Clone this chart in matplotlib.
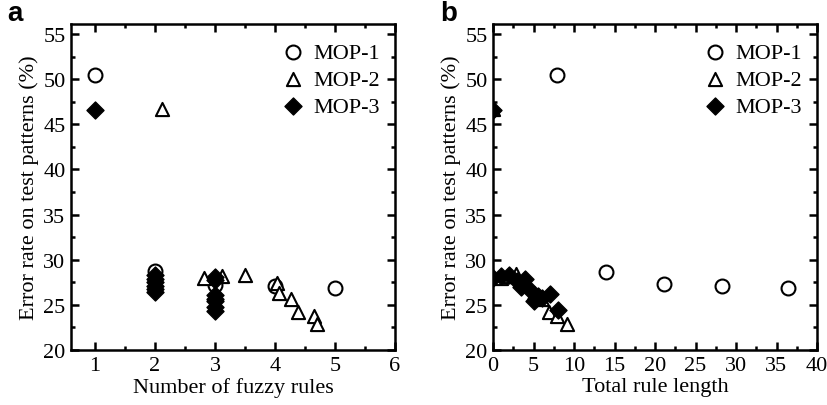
import matplotlib
matplotlib.use("Agg")
import matplotlib.pyplot as plt
from matplotlib.ticker import MultipleLocator

plt.rcParams['font.family'] = ['Liberation Serif', 'DejaVu Serif']

# panel a: number of fuzzy rules
a_mop1_x = [1, 2, 3, 4, 5]
a_mop1_y = [50.5, 28.7, 27.2, 27.1, 26.9]
a_mop2_x = [2.12, 2.81, 3.12, 3.5, 4.03, 4.07, 4.26, 4.38, 4.65, 4.7]
a_mop2_y = [46.7, 28.0, 28.2, 28.3, 27.4, 26.3, 25.6, 24.2, 23.8, 22.9]
a_mop3_x = [1, 2, 2, 2, 2, 2, 2, 3, 3, 3, 3, 3, 3, 3]
a_mop3_y = [46.6, 28.3, 27.9, 27.5, 27.1, 26.8, 26.4, 28.1, 27.7, 26.1, 25.7, 25.4, 24.8, 24.3]

# panel b: total rule length
b_mop1_x = [7.9, 14, 21.1, 28.3, 36.4]
b_mop1_y = [50.5, 28.6, 27.3, 27.1, 26.9]
b_mop2_x = [0, 1, 2, 2.8, 4, 5, 6, 6.9, 7.96, 9.08]
b_mop2_y = [46.7, 28.0, 28.2, 28.4, 27.3, 26.3, 25.6, 24.2, 23.8, 22.9]
b_mop3_x = [0, 0, 1, 2, 3, 3.5, 4, 4.5, 5, 5.5, 6, 7, 8]
b_mop3_y = [46.6, 28.0, 28.2, 28.3, 27.6, 27.0, 27.9, 26.7, 25.4, 26.0, 25.8, 26.2, 24.4]

fig = plt.figure(figsize=(8.28, 4.06), dpi=100)
ax_a = fig.add_axes([71/828, 55/406, 324/828, 326/406])
ax_b = fig.add_axes([493/828, 55/406, 324/828, 326/406])


def draw(ax, x1, y1, x2, y2, x3, y3):
    ax.scatter(x1, y1, marker='o', s=100, facecolors='white', edgecolors='black',
               linewidths=1.5, label='MOP-1', zorder=3)
    ax.scatter(x2, y2, marker='^', s=90, facecolors='white', edgecolors='black',
               linewidths=1.5, label='MOP-2', zorder=4)
    ax.scatter(x3, y3, marker='D', s=75, facecolors='black', edgecolors='black',
               linewidths=1.0, label='MOP-3', zorder=5)
    ax.set_ylim(20, 56.1)
    ax.yaxis.set_major_locator(MultipleLocator(5))
    ax.yaxis.set_minor_locator(MultipleLocator(2.5))
    ax.set_ylabel('Error rate on test patterns (%)', fontsize=16, labelpad=3)
    for sp in ax.spines.values():
        sp.set_linewidth(1.8)
    ax.tick_params(which='both', direction='in', top=True, right=True,
                   labelsize=16, width=1.8)
    ax.tick_params(which='major', length=6, pad=4)
    ax.tick_params(which='minor', length=3)
    ax.legend(loc='upper right', bbox_to_anchor=(1 - 15/324, 1 - 18/326),
              frameon=False, fontsize=16, handletextpad=0.3,
              borderaxespad=0, borderpad=0, labelspacing=0.3,
              handlelength=1.2)


draw(ax_a, a_mop1_x, a_mop1_y, a_mop2_x, a_mop2_y, a_mop3_x, a_mop3_y)
ax_a.set_xlim(0.6, 6)
ax_a.xaxis.set_major_locator(MultipleLocator(1))
ax_a.xaxis.set_minor_locator(MultipleLocator(0.5))
ax_a.set_xticks([1, 2, 3, 4, 5, 6])
ax_a.set_xlabel('Number of fuzzy rules', fontsize=16, labelpad=2)

draw(ax_b, b_mop1_x, b_mop1_y, b_mop2_x, b_mop2_y, b_mop3_x, b_mop3_y)
ax_b.set_xlim(0, 40)
ax_b.xaxis.set_major_locator(MultipleLocator(5))
ax_b.xaxis.set_minor_locator(MultipleLocator(2.5))
ax_b.set_xlabel('Total rule length', fontsize=16, labelpad=2)

fig.text(7/828, 1 - 21/406, 'a', fontsize=20, fontweight='bold',
         family='Liberation Sans', va='baseline', ha='left')
fig.text(440/828, 1 - 21/406, 'b', fontsize=20, fontweight='bold',
         family='Liberation Sans', va='baseline', ha='left')

fig.savefig('out.png', dpi=100)
